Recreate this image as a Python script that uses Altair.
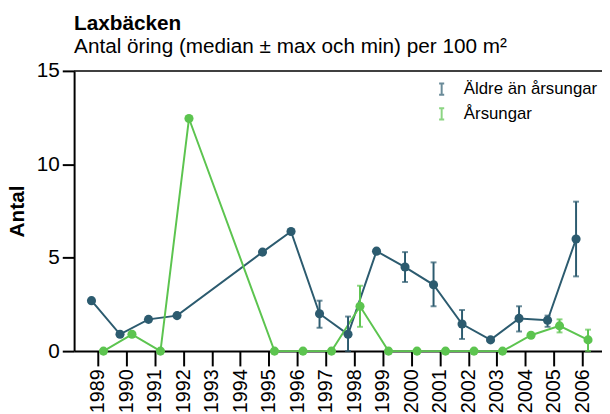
import altair as alt
import pandas as pd

years = [1989, 1990, 1991, 1992, 1995, 1996, 1997, 1998, 1999, 2000, 2001, 2002, 2003, 2004, 2005, 2006]
series_names = ["Äldre än årsungar", "Årsungar"]
colors = ["#2C5B6F", "#5CC44F"]

aldre_median = [2.7, 0.9, 1.7, 1.9, 5.3, 6.4, 2.0, 0.9, 5.35, 4.5, 3.55, 1.45, 0.6, 1.75, 1.65, 6.0]
aldre_max = [None, None, None, None, None, None, 2.7, 1.85, None, 5.3, 4.75, 2.2, None, 2.4, 1.9, 8.0]
aldre_min = [None, None, None, None, None, None, 1.25, 0.0, None, 3.7, 2.4, 0.65, None, 1.05, 1.3, 4.0]

arsungar_median = [0.0, 0.9, 0.0, 12.45, 0.0, 0.0, 0.0, 2.4, 0.0, 0.0, 0.0, 0.0, 0.0, 0.85, 1.35, 0.6]
arsungar_max = [None, None, None, None, None, None, None, 3.5, None, None, None, None, None, None, 1.7, 1.15]
arsungar_min = [None, None, None, None, None, None, None, 1.3, None, None, None, None, None, None, 1.0, 0.0]

tick_years = list(range(1989, 2007))

rows = []
for name, med, mx, mn in [
    (series_names[0], aldre_median, aldre_max, aldre_min),
    (series_names[1], arsungar_median, arsungar_max, arsungar_min),
]:
    for y, m, a, b in zip(years, med, mx, mn):
        rows.append({"serie": name, "year": y, "median": m, "max": a, "min": b})
df = pd.DataFrame(rows)

font = "Liberation Sans"
color_scale = alt.Scale(domain=series_names, range=colors)
x_scale = alt.Scale(domain=[1988.17, 2006.69], nice=False, zero=False)
y_scale = alt.Scale(domain=[0, 15], nice=False)

sym_path = "M-0.45,-1H0.45M0,-1V1M-0.45,1H0.45"

legend = alt.Legend(
    title=None,
    orient="none",
    legendX=364,
    legendY=10,
    symbolType=sym_path,
    symbolSize=130,
    symbolStrokeWidth=2,
    symbolFillColor="transparent",
    labelFontSize=17,
    labelFont=font,
    labelColor="black",
    rowPadding=4,
    labelOffset=14,
)

x_axis = alt.Axis(
    values=tick_years,
    format="d",
    labelAngle=270,
    labelFontSize=20,
    labelFont=font,
    labelColor="black",
    tickSize=15,
    tickWidth=2,
    tickColor="black",
    domainColor="black",
    domainWidth=2,
    labelPadding=3,
    grid=False,
    labelOverlap=False,
    labelFlush=False,
    labelBound=False,
)
y_axis = alt.Axis(
    values=[0, 5, 10, 15],
    labelFontSize=21,
    labelFont=font,
    labelColor="black",
    titleFontSize=21,
    titleFont=font,
    titleFontWeight="bold",
    titleColor="black",
    titlePadding=9,
    tickSize=12,
    tickWidth=2,
    tickColor="black",
    domainColor="black",
    domainWidth=2,
    labelPadding=3,
    grid=False,
    labelOverlap=False,
    labelFlush=False,
)

base = alt.Chart(df).transform_calculate(
    xpos=f"datum.year + (datum.serie == '{series_names[0]}' ? -0.22 : 0.2)"
)

x_enc = alt.X("xpos:Q", scale=x_scale, title=None, axis=x_axis)


def y_of(field):
    return alt.Y(f"{field}:Q", scale=y_scale, title="Antal", axis=y_axis)


c_enc = alt.Color("serie:N", scale=color_scale, legend=legend, sort=series_names)

top_line = alt.Chart(pd.DataFrame({"v": [15]})).mark_rule(color="black", strokeWidth=1.5).encode(
    y=y_of("v")
)

lines = base.mark_line(strokeWidth=2).encode(x=x_enc, y=y_of("median"), color=c_enc, detail="serie:N")
err = base.transform_filter("datum.max != null").mark_rule(strokeWidth=2).encode(
    x=x_enc, y=y_of("min"), y2="max:Q", color=c_enc
)
cap_top = base.transform_filter("datum.max != null").mark_tick(orient="horizontal", size=6, thickness=2).encode(
    x=x_enc, y=y_of("max"), color=c_enc
)
cap_bot = base.transform_filter("datum.max != null").mark_tick(orient="horizontal", size=6, thickness=2).encode(
    x=x_enc, y=y_of("min"), color=c_enc
)
points = base.mark_point(filled=True, size=85, opacity=1).encode(
    x=x_enc, y=y_of("median"), color=c_enc
)

chart = alt.layer(top_line, lines, err, cap_top, cap_bot, points).properties(
    width=535,
    height=284,
    autosize=alt.AutoSizeParams(type="none"),
    padding={"left": 67, "top": 61, "right": 0, "bottom": 61},
    title=alt.Title(
        text="Laxbäcken",
        subtitle="Antal öring (median ± max och min) per 100 m²",
        anchor="start",
        frame="group",
        font=font,
        fontSize=21,
        fontWeight="bold",
        subtitleFont=font,
        subtitleFontSize=21,
        subtitleColor="black",
        color="black",
        subtitlePadding=2,
        offset=3,
    ),
).configure_view(stroke=None)

chart.save("out.html", embed_options={"renderer": "svg", "actions": False})
